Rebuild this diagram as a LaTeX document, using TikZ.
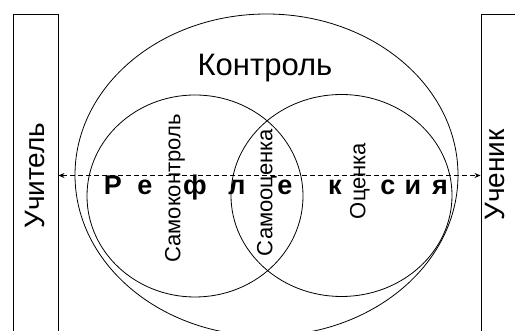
\documentclass[tikz,border=0pt]{standalone}
\usepackage{fontspec}
\setmainfont{Liberation Sans}
\usepackage{tikz}
\usetikzlibrary{arrows.meta, positioning}

\begin{document}
\begin{tikzpicture}[x=1pt, y=1pt, >={Stealth[length=6pt, width=5pt]},
    sidebox/.style={draw, line width=0.9pt, minimum width=45pt, minimum height=323pt, inner sep=0pt},
    vlabel/.style={rotate=90, inner sep=0pt},
    refl/.style={anchor=base, inner sep=0pt, font=\fontsize{27}{27}\selectfont\bfseries},
    ring/.style={line width=0.8pt},
    flow/.style={<->, line width=1.4pt, dash pattern=on 5pt off 3pt}]
        \clip (0,0) rectangle (515,331);

        % sides
        \node[sidebox] (teacher) at (35.5,155.5) {};
        \node[sidebox] (pupil) at (503.5,155.5) {};
        \node[vlabel, font=\fontsize{28}{28}\selectfont] (tlabel) at (teacher) {Учитель};
        \node[vlabel, font=\fontsize{28}{28}\selectfont] (plabel) at (495,156) {Ученик};

        % circles
        \draw[ring] (266.5,156) ellipse [x radius=191.5, y radius=161];
        \draw[ring] (195,135) ellipse [x radius=108, y radius=101];
        \draw[ring] (341.5,135.5) ellipse [x radius=110.5, y radius=101];

        \node[anchor=base, inner sep=0pt, font=\fontsize{31}{31}\selectfont] (control) at (265,255) {Контроль};
        \node[vlabel, font=\fontsize{22}{22}\selectfont] (self) at (175,142.5) {Самоконтроль};
        \node[vlabel, font=\fontsize{22}{22}\selectfont] (selfmark) at (267,138.5) {Самооценка};
        \node[vlabel, font=\fontsize{22}{22}\selectfont] (mark) at (360,150) {Оценка};

        \foreach \ch/\px [count=\i] in {Р/113, е/145, ф/195, л/237, е/285, к/335, с/388, и/413, я/440}
            \node[refl] (r\i) at (\px,136) {\ch};

        \draw[flow] (teacher) -- (pupil);
    \end{tikzpicture}
\end{document}
